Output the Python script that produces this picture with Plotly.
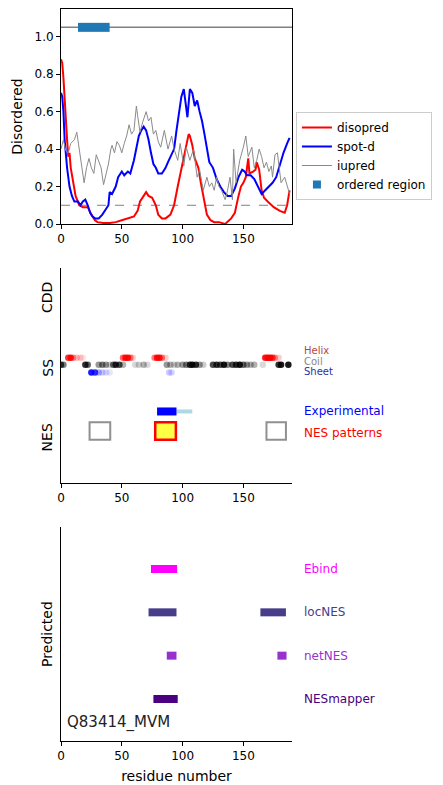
import plotly.graph_objects as go

# ---------------- data ----------------
diso_x = [0, 1, 2, 3, 5, 6, 7, 8, 10, 12, 15, 18, 20, 22, 25, 28, 30, 35, 40, 45, 50, 55, 60, 63, 65, 68, 70, 72,
          75, 78, 80, 83, 86, 90, 93, 96, 99, 102, 104, 105, 106, 108, 110, 113, 115, 118, 120, 123, 126, 130,
          135, 140, 143, 146, 148, 150, 152, 154, 155, 158, 160, 161, 163, 165, 167, 170, 175, 180, 184, 186, 188]
diso_y = [0.88, 0.86, 0.78, 0.65, 0.45, 0.36, 0.38, 0.30, 0.22, 0.15, 0.10, 0.09, 0.09, 0.09, 0.05, 0.02, 0.01,
          0.005, 0.005, 0.01, 0.02, 0.03, 0.04, 0.07, 0.12, 0.15, 0.17, 0.15, 0.14, 0.10, 0.05, 0.03, 0.03, 0.05,
          0.10, 0.20, 0.30, 0.38, 0.46, 0.48, 0.47, 0.42, 0.35, 0.30, 0.22, 0.12, 0.05, 0.02, 0.01, 0.01, 0.0,
          0.03, 0.06, 0.15, 0.20, 0.22, 0.25, 0.35, 0.27, 0.28, 0.29, 0.33, 0.29, 0.18, 0.14, 0.12, 0.09, 0.07,
          0.06, 0.10, 0.18]

spot_x = [0, 1, 2, 3, 5, 7, 9, 11, 14, 16, 18, 20, 22, 24, 26, 28, 31, 34, 37, 39, 40, 42, 45, 47, 50, 52, 55,
          57, 60, 62, 64, 66, 68, 70, 72, 74, 76, 78, 80, 83, 86, 88, 91, 93, 95, 97, 99, 101, 103, 104, 106,
          108, 110, 112, 114, 116, 118, 120, 122, 125, 128, 131, 134, 137, 140, 143, 146, 149, 151, 153, 156,
          159, 162, 165, 168, 171, 174, 177, 180, 183, 186, 188]
spot_y = [0.70, 0.68, 0.60, 0.45, 0.30, 0.20, 0.15, 0.12, 0.12, 0.10, 0.12, 0.13, 0.10, 0.06, 0.04, 0.03, 0.03,
          0.05, 0.08, 0.10, 0.17, 0.16, 0.20, 0.25, 0.28, 0.26, 0.28, 0.27, 0.34, 0.40, 0.47, 0.50, 0.52, 0.50,
          0.45, 0.38, 0.32, 0.30, 0.27, 0.27, 0.30, 0.33, 0.37, 0.40, 0.50, 0.60, 0.68, 0.72, 0.62, 0.57, 0.72,
          0.70, 0.63, 0.66, 0.60, 0.55, 0.48, 0.40, 0.33, 0.30, 0.24, 0.20, 0.17, 0.15, 0.15, 0.19, 0.25, 0.29,
          0.28, 0.26, 0.26, 0.24, 0.20, 0.16, 0.18, 0.20, 0.22, 0.25, 0.32, 0.38, 0.43, 0.46]

iup_x = [0, 2, 4, 6, 8, 11, 13, 15, 17, 19, 21, 23, 25, 27, 29, 31, 33, 35, 37, 39, 41, 42, 44, 46, 48, 50, 52,
         54, 56, 58, 60, 62, 63, 65, 67, 69, 70, 72, 74, 76, 78, 80, 82, 85, 88, 91, 93, 95, 96, 98, 101, 103,
         106, 109, 112, 114, 117, 120, 122, 124, 126, 128, 130, 132, 135, 137, 139, 141, 142, 144, 147, 150,
         152, 154, 157, 159, 161, 163, 165, 167, 169, 171, 173, 174, 176, 178, 180, 181, 184, 186, 188]
iup_y = [0.40, 0.45, 0.39, 0.38, 0.43, 0.45, 0.49, 0.40, 0.33, 0.22, 0.30, 0.35, 0.30, 0.27, 0.37, 0.33, 0.30,
         0.21, 0.27, 0.32, 0.40, 0.42, 0.38, 0.44, 0.42, 0.38, 0.43, 0.47, 0.53, 0.48, 0.50, 0.63, 0.58, 0.49,
         0.54, 0.58, 0.60, 0.55, 0.57, 0.48, 0.50, 0.44, 0.41, 0.50, 0.40, 0.47, 0.40, 0.36, 0.34, 0.43, 0.31,
         0.41, 0.34, 0.40, 0.25, 0.29, 0.18, 0.25, 0.20, 0.22, 0.18, 0.25, 0.20, 0.18, 0.13, 0.18, 0.25, 0.13,
         0.40, 0.22, 0.34, 0.41, 0.47, 0.36, 0.41, 0.30, 0.34, 0.40, 0.36, 0.30, 0.33, 0.28, 0.31, 0.25, 0.37,
         0.38, 0.25, 0.22, 0.25, 0.20, 0.16]

ordered_start = [14]
ordered_end = [40]
ordered_level = 1.05
diso_threshold = 0.1

x_ticks = [0, 50, 100, 150]
y_ticks = [0.0, 0.2, 0.4, 0.6, 0.8, 1.0]

# secondary structure (residue, probability)
helix_pos = [6, 8, 10, 13, 16, 18, 51, 53, 55, 57, 59, 77, 79, 81, 83, 86, 168, 170, 172, 174, 176, 179]
helix_prob = [0.8, 0.9, 0.4, 0.25, 0.2, 0.1, 0.6, 0.9, 0.9, 0.5, 0.2, 0.5, 0.9, 0.9, 0.5, 0.2, 0.9, 1.0, 1.0,
              0.8, 0.4, 0.2]
coil_pos = [0, 2, 20, 22, 31, 34, 37, 40, 43, 45, 48, 51, 61, 64, 68, 71, 87, 90, 93, 96, 100, 103, 106, 108,
            111, 114, 117, 125, 128, 131, 134, 137, 141, 144, 147, 150, 153, 156, 159, 166, 179, 181, 187]
coil_prob = [0.7, 0.5, 0.8, 0.6, 0.4, 0.5, 0.4, 0.2, 0.6, 0.8, 0.7, 0.3, 0.15, 0.2, 0.3, 0.15, 0.4, 0.3, 0.2,
             0.3, 0.4, 0.5, 0.8, 0.9, 0.8, 0.4, 0.2, 0.7, 0.8, 0.7, 0.9, 0.5, 0.7, 0.8, 0.9, 0.6, 0.4, 0.3, 0.3,
             0.15, 0.8, 0.9, 0.9]
sheet_pos = [25, 28, 31, 34, 37, 40, 89, 91]
sheet_prob = [0.9, 0.8, 0.3, 0.2, 0.15, 0.1, 0.2, 0.15]

exp_start, exp_end = 79, 95
exp_ext_start, exp_ext_end = 95, 108
nes_pat_start = [23.5, 77.5, 169]
nes_pat_end = [40.5, 94.5, 185]
nes_pat_hit = [False, True, False]

pred_names = ["Ebind", "locNES", "netNES", "NESmapper"]
pred_colors = ["#ff00ff", "#483d8b", "#9932cc", "#4b0082"]
pred_segments = [
    [(74, 95.5)],
    [(72, 95), (164, 185)],
    [(87, 95), (178, 185.5)],
    [(76, 96)],
]
protein_label = "Q83414_MVM"

# ---------------- figure ----------------
W, H = 443, 785
L, R, T, B = 61, 151, 9, 44
ph = H - T - B

def dom(top_px, bot_px):
    return [1 - (bot_px - T) / ph, 1 - (top_px - T) / ph]

FONT = "DejaVu Sans"
fig = go.Figure()

# top panel
fig.add_trace(go.Scatter(x=diso_x, y=diso_y, mode="lines", name="disopred",
                         line=dict(color="red", width=2), xaxis="x", yaxis="y"))
fig.add_trace(go.Scatter(x=spot_x, y=spot_y, mode="lines", name="spot-d",
                         line=dict(color="blue", width=2), xaxis="x", yaxis="y"))
fig.add_trace(go.Scatter(x=iup_x, y=iup_y, mode="lines", name="iupred",
                         line=dict(color="#8a8a8a", width=1), xaxis="x", yaxis="y"))
for s, e in zip(ordered_start, ordered_end):
    fig.add_trace(go.Scatter(x=[s, e], y=[ordered_level, ordered_level], mode="lines",
                             line=dict(color="#1f77b4", width=9), showlegend=False,
                             xaxis="x", yaxis="y"))
fig.add_trace(go.Scatter(x=[None], y=[None], mode="markers", name="ordered region",
                         marker=dict(symbol="square", color="#1f77b4", size=8), xaxis="x", yaxis="y"))

fig.add_shape(type="line", xref="x domain", yref="y", x0=0, x1=1, y0=ordered_level, y1=ordered_level,
              line=dict(color="#808080", width=1.5), layer="below")
fig.add_shape(type="line", xref="x domain", yref="y", x0=0, x1=1, y0=diso_threshold, y1=diso_threshold,
              line=dict(color="#808080", width=1, dash="dash"), layer="below")

# middle panel
SS_Y = 2.0
def rgba(c, a):
    return f"rgba({c[0]},{c[1]},{c[2]},{a})"

fig.add_trace(go.Scatter(x=helix_pos, y=[SS_Y + 0.14] * len(helix_pos), mode="markers",
                         marker=dict(size=6.5, color=[rgba((255, 0, 0), p) for p in helix_prob]),
                         showlegend=False, xaxis="x2", yaxis="y2"))
fig.add_trace(go.Scatter(x=coil_pos, y=[SS_Y + 0.04] * len(coil_pos), mode="markers",
                         marker=dict(size=6.5, color=[rgba((0, 0, 0), p) for p in coil_prob]),
                         showlegend=False, xaxis="x2", yaxis="y2"))
fig.add_trace(go.Scatter(x=sheet_pos, y=[SS_Y - 0.07] * len(sheet_pos), mode="markers",
                         marker=dict(size=6.5, color=[rgba((0, 0, 255), p) for p in sheet_prob]),
                         showlegend=False, xaxis="x2", yaxis="y2"))

NES_Y = 1.0
fig.add_trace(go.Scatter(x=[exp_ext_start, exp_ext_end], y=[NES_Y + 0.37] * 2, mode="lines",
                         line=dict(color="lightblue", width=4), showlegend=False, xaxis="x2", yaxis="y2"))
fig.add_trace(go.Scatter(x=[exp_start, exp_end], y=[NES_Y + 0.37] * 2, mode="lines",
                         line=dict(color="blue", width=8), showlegend=False, xaxis="x2", yaxis="y2"))
for s, e, hit in zip(nes_pat_start, nes_pat_end, nes_pat_hit):
    fig.add_shape(type="rect", xref="x2", yref="y2", x0=s, x1=e, y0=NES_Y - 0.035, y1=NES_Y + 0.215,
                  fillcolor="#ffff44" if hit else "white",
                  line=dict(color="red" if hit else "#909090", width=2.5 if hit else 2))

for txt, yv, col, fs in [("Helix", SS_Y + 0.245, "#b54545", 10), ("Coil", SS_Y + 0.09, "#888888", 10),
                         ("Sheet", SS_Y - 0.06, "#2f2fa0", 10),
                         ("Experimental", NES_Y + 0.37, "blue", 12), ("NES patterns", NES_Y + 0.06, "red", 12)]:
    fig.add_annotation(x=1.045, xref="x2 domain", y=yv, yref="y2", text=txt, showarrow=False,
                       xanchor="left", yanchor="middle", font=dict(color=col, size=fs, family=FONT))

for txt, yv in [("CDD", 3.0), ("SS", 2.0), ("NES", 1.0)]:
    fig.add_annotation(x=-0.06, xref="x2 domain", y=yv, yref="y2", text=txt, showarrow=False,
                       textangle=-90, xanchor="center", yanchor="middle",
                       font=dict(size=14, color="black", family=FONT))

# bottom panel
n = len(pred_names)
for i, (nm, col, segs) in enumerate(zip(pred_names, pred_colors, pred_segments)):
    lvl = n - i
    for s, e in segs:
        fig.add_trace(go.Scatter(x=[s, e], y=[lvl, lvl], mode="lines", line=dict(color=col, width=8),
                                 showlegend=False, xaxis="x3", yaxis="y3"))
    fig.add_annotation(x=1.045, xref="x3 domain", y=lvl, yref="y3", text=nm, showarrow=False,
                       xanchor="left", yanchor="middle", font=dict(color=col, size=12, family=FONT))
fig.add_annotation(x=3, xref="x3", y=0.45, yref="y3", text=protein_label, showarrow=False,
                   xanchor="left", yanchor="middle", font=dict(size=15, color="#222222", family=FONT))

axis_common = dict(range=[0, 190], tickvals=x_ticks, ticks="outside", ticklen=4, tickwidth=1,
                   tickcolor="black", showline=True, linecolor="black", linewidth=1, showgrid=False,
                   zeroline=False, tickfont=dict(size=12, color="black", family=FONT), automargin=False)

fig.update_layout(
    width=W, height=H, margin=dict(l=L, r=R, t=T, b=B, autoexpand=False),
    paper_bgcolor="white", plot_bgcolor="white",
    font=dict(family=FONT, color="black"),
    xaxis=dict(domain=[0, 1], anchor="y", mirror=True, **axis_common),
    yaxis=dict(domain=dom(9, 224), anchor="x", range=[0, 1.148], tickvals=y_ticks,
               ticktext=[f"{v:.1f}" for v in y_ticks], ticks="outside", ticklen=4, tickcolor="black",
               showline=True, linecolor="black", mirror=True, showgrid=False, zeroline=False,
               tickfont=dict(size=12, color="black", family=FONT), automargin=False,
               title=dict(text="Disordered", font=dict(size=14, family=FONT), standoff=8)),
    xaxis2=dict(domain=[0, 1], anchor="y2", **axis_common),
    yaxis2=dict(domain=dom(268, 483), anchor="x2", range=[0.343, 3.43], showticklabels=False,
                ticks="", showline=True, linecolor="black", showgrid=False, zeroline=False, automargin=False),
    xaxis3=dict(domain=[0, 1], anchor="y3",
                title=dict(text="residue number", font=dict(size=14, family=FONT), standoff=8),
                **axis_common),
    yaxis3=dict(domain=dom(527, 741), anchor="x3", range=[0.03, 4.97], showticklabels=False,
                ticks="", showline=True, linecolor="black", showgrid=False, zeroline=False, automargin=False,
                title=dict(text="Predicted", font=dict(size=14, family=FONT), standoff=4)),
    legend=dict(x=1.017, y=dom(9, 224)[1] - (112 - 9) / ph, xanchor="left", yanchor="top",
                bordercolor="#cccccc", borderwidth=1, font=dict(size=12, family=FONT),
                bgcolor="white", tracegroupgap=0, itemwidth=30),
    showlegend=True,
)

fig.write_html("out.html")
